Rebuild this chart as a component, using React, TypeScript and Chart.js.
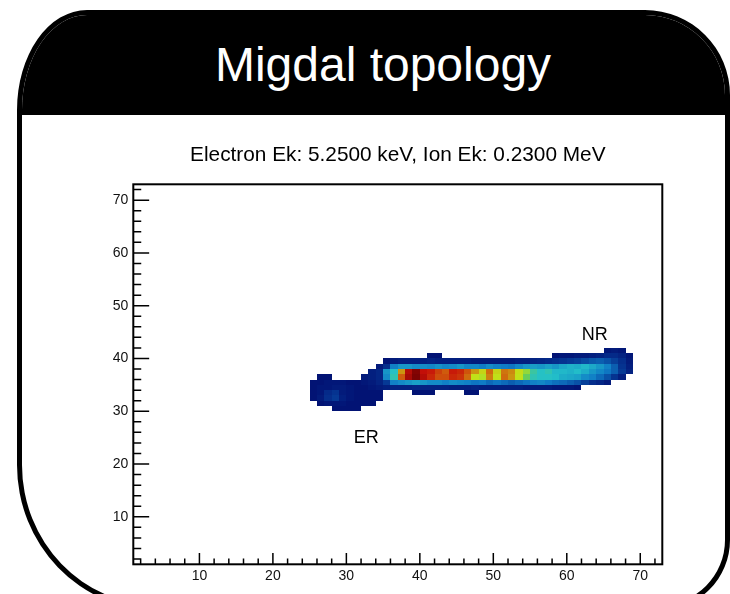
import React, { useEffect, useRef } from "react";
import { Chart, registerables } from "chart.js";

Chart.register(...registerables);

// Axis ranges (bins are 1 unit wide on both axes)
const X_MIN = 1;
const X_MAX = 73;
const Y_MIN = 1;
const Y_MAX = 73;
const Z_MAX = 100;

const majorTicks = [10, 20, 30, 40, 50, 60, 70];
const minorTicks = [2, 4, 6, 8, 12, 14, 16, 18, 22, 24, 26, 28, 32, 34, 36, 38, 42, 44, 46, 48, 52, 54, 56, 58, 62, 64, 66, 68, 72];

const headerText = "Migdal topology";
const titleText = "Electron Ek: 5.2500 keV, Ion Ek: 0.2300 MeV";

const trackNames = ["NR", "ER"];
const trackLabelX = [63.8, 32.7];
const trackLabelY = [43.5, 24.0];

// Deposited charge per bin, one array per row segment (first bin given in segStarts)
const row41 = [6, 7, 6];
const row40a = [5, 5];
const row40b = [5, 6, 6, 7, 7, 8, 9, 11, 11, 9, 6];
const row39 = [5, 7, 8, 8, 8, 8, 9, 8, 8, 8, 8, 8, 7, 7, 7, 7, 7, 7, 8, 8, 9, 10, 11, 12, 13, 14, 15, 17, 19, 20, 18, 15, 12, 7];
const row38 = [7, 12, 26, 30, 30, 28, 28, 27, 29, 27, 28, 30, 27, 27, 25, 28, 26, 25, 24, 27, 30, 31, 30, 32, 30, 33, 35, 34, 36, 33, 30, 26, 20, 13, 8];
const row37 = [8, 10, 30, 38, 70, 90, 97, 88, 86, 80, 76, 86, 84, 77, 70, 64, 74, 64, 73, 71, 63, 56, 42, 38, 40, 36, 36, 35, 37, 34, 30, 27, 24, 20, 14, 9];
const row36a = [5, 5];
const row36b = [7, 8, 10, 28, 40, 76, 92, 98, 90, 84, 78, 78, 84, 82, 74, 62, 60, 72, 62, 74, 70, 62, 50, 40, 38, 38, 37, 34, 33, 32, 28, 26, 22, 18, 13, 8];
const row35 = [5, 5, 6, 6, 6, 5, 5, 6, 7, 9, 14, 26, 28, 30, 32, 30, 28, 28, 26, 28, 27, 26, 24, 25, 22, 24, 22, 20, 22, 24, 26, 27, 25, 23, 22, 20, 18, 15, 12, 10, 7];
const row34 = [5, 6, 6, 7, 7, 6, 5, 5, 6, 7, 8, 9, 9, 9, 10, 9, 9, 9, 9, 8, 8, 8, 9, 8, 8, 8, 8, 8, 8, 7, 7, 7, 7, 6, 6, 6, 5];
const row33a = [5, 6, 11, 13, 7, 6, 5, 5, 5, 5];
const row33b = [5, 5, 5];
const row33c = [5, 5];
const row32 = [5, 7, 12, 14, 8, 6, 5, 5, 5, 5];
const row31 = [5, 6, 6, 6, 5, 5, 5, 5];
const row30 = [5, 5, 5, 5];

const segRows = [41, 40, 40, 39, 38, 37, 36, 36, 35, 34, 33, 33, 33, 32, 31, 30];
const segStarts = [65, 41, 58, 35, 34, 33, 26, 32, 25, 25, 25, 39, 46, 25, 26, 28];
const segCounts = [row41, row40a, row40b, row39, row38, row37, row36a, row36b, row35, row34, row33a, row33b, row33c, row32, row31, row30];

// Rainbow colour palette stops
const palR = [0, 5, 15, 35, 102, 196, 208, 199, 110];
const palG = [0, 48, 124, 192, 206, 226, 97, 16, 0];
const palB = [99, 142, 198, 201, 90, 22, 13, 8, 2];

const FONT = '"Liberation Sans", Arial, Helvetica, sans-serif';

function paletteColor(v: number): string {
  const t = Math.max(0, Math.min(1, v / Z_MAX));
  const pos = t * (palR.length - 1);
  const i = Math.min(palR.length - 2, Math.floor(pos));
  const f = pos - i;
  const r = Math.round(palR[i] + (palR[i + 1] - palR[i]) * f);
  const g = Math.round(palG[i] + (palG[i + 1] - palG[i]) * f);
  const b = Math.round(palB[i] + (palB[i + 1] - palB[i]) * f);
  return `rgb(${r},${g},${b})`;
}

type Cell = { x: number; y: number; v: number };

function buildCells(): Cell[] {
  const cells: Cell[] = [];
  segRows.forEach((row, s) => {
    segCounts[s].forEach((v, i) => {
      cells.push({ x: segStarts[s] + i + 0.5, y: row + 0.5, v });
    });
  });
  return cells;
}

const cellPlugin = {
  id: "cells",
  beforeDatasetsDraw(chart: any) {
    const { ctx, scales } = chart;
    const xs = scales.x;
    const ys = scales.y;
    const data = chart.data.datasets[0].data as Cell[];
    ctx.save();
    for (const c of data) {
      const l = Math.round(xs.getPixelForValue(c.x - 0.5));
      const r = Math.round(xs.getPixelForValue(c.x + 0.5));
      const t = Math.round(ys.getPixelForValue(c.y + 0.5));
      const b = Math.round(ys.getPixelForValue(c.y - 0.5));
      ctx.fillStyle = paletteColor(c.v);
      ctx.fillRect(l, t, r - l, b - t);
    }
    ctx.restore();
  },
};

const framePlugin = {
  id: "frameAndTicks",
  afterDatasetsDraw(chart: any) {
    const { ctx, chartArea, scales } = chart;
    const { left, right, top, bottom } = chartArea;
    const w = right - left;
    const h = bottom - top;
    ctx.save();
    ctx.strokeStyle = "#000";
    ctx.lineWidth = 2;
    ctx.strokeRect(left, top, w, h);

    ctx.lineWidth = 1.5;
    ctx.beginPath();
    const xMaj = h * 0.03;
    const yMaj = w * 0.03;
    for (const v of majorTicks) {
      const px = scales.x.getPixelForValue(v);
      ctx.moveTo(px, bottom);
      ctx.lineTo(px, bottom - xMaj);
      const py = scales.y.getPixelForValue(v);
      ctx.moveTo(left, py);
      ctx.lineTo(left + yMaj, py);
    }
    for (const v of minorTicks) {
      const px = scales.x.getPixelForValue(v);
      ctx.moveTo(px, bottom);
      ctx.lineTo(px, bottom - xMaj / 2);
      const py = scales.y.getPixelForValue(v);
      ctx.moveTo(left, py);
      ctx.lineTo(left + yMaj / 2, py);
    }
    ctx.stroke();

    // Track labels
    ctx.fillStyle = "#000";
    ctx.font = `18px ${FONT}`;
    ctx.textAlign = "center";
    ctx.textBaseline = "alphabetic";
    trackNames.forEach((name, i) => {
      ctx.fillText(name, scales.x.getPixelForValue(trackLabelX[i]), scales.y.getPixelForValue(trackLabelY[i]));
    });

    // Histogram title
    ctx.font = `20.8px ${FONT}`;
    ctx.fillText(titleText, (left + right) / 2, top - 23.5);
    ctx.restore();
  },
};

export default function App() {
  const canvasRef = useRef<HTMLCanvasElement | null>(null);

  useEffect(() => {
    if (!canvasRef.current) return;
    const tickFont = { family: FONT, size: 14 };
    const chart = new Chart(canvasRef.current, {
      type: "scatter",
      data: {
        datasets: [
          {
            data: buildCells(),
            pointRadius: 0,
            pointHoverRadius: 0,
          },
        ],
      },
      options: {
        animation: false,
        responsive: false,
        events: [],
        layout: { padding: { left: 88.3, top: 184.3, right: 67.7, bottom: 0 } },
        plugins: {
          legend: { display: false },
          tooltip: { enabled: false },
          title: { display: false },
        },
        scales: {
          x: {
            type: "linear",
            min: X_MIN,
            max: X_MAX,
            afterBuildTicks: (s: any) => {
              s.ticks = majorTicks.map((value) => ({ value }));
            },
            afterFit: (s: any) => {
              s.height = 29.7;
            },
            grid: { display: false, drawTicks: false },
            border: { display: false },
            ticks: {
              padding: 3,
              font: tickFont,
              color: "#111",
              maxRotation: 0,
              autoSkip: false,
              callback: (v: any) => String(v),
            },
          },
          y: {
            type: "linear",
            min: Y_MIN,
            max: Y_MAX,
            afterBuildTicks: (s: any) => {
              s.ticks = majorTicks.map((value) => ({ value }));
            },
            afterFit: (s: any) => {
              s.width = 45;
            },
            grid: { display: false, drawTicks: false },
            border: { display: false },
            ticks: {
              padding: 5,
              font: tickFont,
              color: "#111",
              autoSkip: false,
              callback: (v: any) => String(v),
            },
          },
        },
      },
      plugins: [cellPlugin, framePlugin],
    });
    return () => chart.destroy();
  }, []);

  return (
    <div
      style={{
        position: "fixed",
        left: 0,
        top: 0,
        width: 730,
        height: 594,
        overflow: "hidden",
        background: "#fff",
      }}
    >
      <div
        style={{
          position: "absolute",
          left: 17,
          top: 10,
          width: 713,
          height: 600,
          boxSizing: "border-box",
          border: "5px solid #000",
          borderRadius: "70px 85px 70px 140px / 100px 85px 70px 145px",
          overflow: "hidden",
          background: "#fff",
        }}
      >
        <div
          style={{
            position: "absolute",
            left: 0,
            top: 0,
            right: 0,
            height: 100,
            background: "#000",
          }}
        />
      </div>
      <div
        style={{
          position: "absolute",
          left: 0,
          top: 41,
          width: 766,
          textAlign: "center",
          color: "#fff",
          fontFamily: FONT,
          fontSize: 48,
          lineHeight: "48px",
          whiteSpace: "nowrap",
        }}
      >
        {headerText}
      </div>
      <canvas
        ref={canvasRef}
        width={730}
        height={594}
        style={{ position: "absolute", left: 0, top: 0, width: 730, height: 594 }}
      />
    </div>
  );
}
